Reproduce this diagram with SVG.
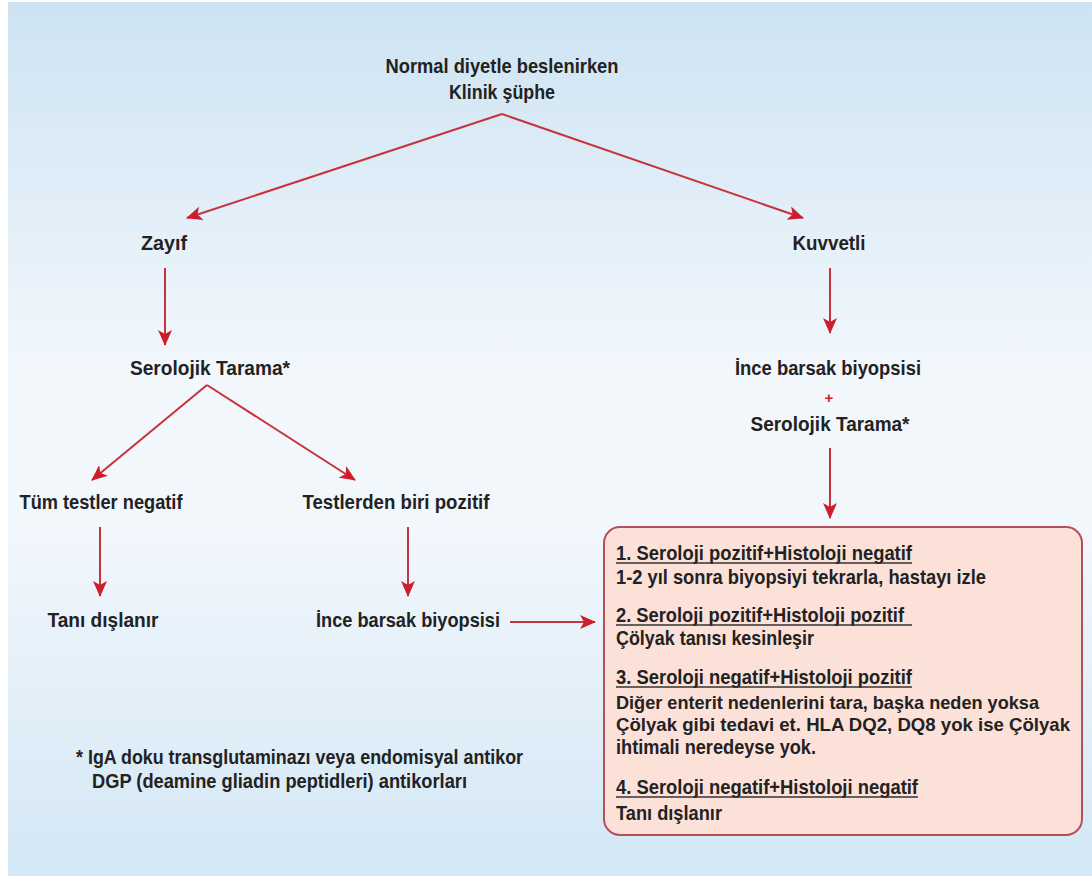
<svg xmlns="http://www.w3.org/2000/svg" width="1092" height="876" viewBox="0 0 1092 876">
<defs>
<linearGradient id="bg" x1="0" y1="0" x2="0" y2="1">
<stop offset="0" stop-color="#cde3f3"/>
<stop offset="0.42" stop-color="#f2f7fc"/>
<stop offset="0.6" stop-color="#f2f7fc"/>
<stop offset="1" stop-color="#d3e7f5"/>
</linearGradient>
<marker id="ah" markerUnits="userSpaceOnUse" markerWidth="16" markerHeight="14" viewBox="0 0 16 14" refX="15" refY="7" orient="auto">
<path d="M0,0 L16,7 L0,14 L4,7 Z" fill="#cc1f2b"/>
</marker>
</defs>
<style>
text{font-family:"Liberation Sans Narrow","Liberation Sans",Arial,sans-serif;font-weight:bold;font-size:21px;fill:#222;}
.c{text-anchor:middle;}
.s{font-size:19px;}
.conn line{stroke:#c7323d;stroke-width:2;marker-end:url(#ah);}
.ul{stroke:#333;stroke-width:1.5;}
</style>
<rect x="0" y="0" width="1092" height="876" fill="#ffffff"/>
<rect x="8" y="2" width="1084" height="874" fill="url(#bg)"/>

<g id="n-top">
<text class="c" x="502" y="73" textLength="233" lengthAdjust="spacingAndGlyphs">Normal diyetle beslenirken</text>
<text class="c" x="502" y="99" textLength="106" lengthAdjust="spacingAndGlyphs">Klinik şüphe</text>
</g>
<g id="n-zayif"><text class="c" x="164" y="250" textLength="46" lengthAdjust="spacingAndGlyphs">Zayıf</text></g>
<g id="n-kuvvetli"><text class="c" x="829" y="250" textLength="73" lengthAdjust="spacingAndGlyphs">Kuvvetli</text></g>
<g id="n-sero-left"><text class="c" x="210" y="375" textLength="160" lengthAdjust="spacingAndGlyphs">Serolojik Tarama*</text></g>
<g id="n-right-bio">
<text class="c" x="828" y="375" textLength="186" lengthAdjust="spacingAndGlyphs">İnce barsak biyopsisi</text>
<text class="c" x="829" y="403" style="fill:#d0202a;font-size:15px">+</text>
<text class="c" x="830" y="431" textLength="159" lengthAdjust="spacingAndGlyphs">Serolojik Tarama*</text>
</g>
<g id="n-tum"><text class="c" x="101" y="509" textLength="163" lengthAdjust="spacingAndGlyphs">Tüm testler negatif</text></g>
<g id="n-testlerden"><text class="c" x="396" y="509" textLength="187" lengthAdjust="spacingAndGlyphs">Testlerden biri pozitif</text></g>
<g id="n-tani"><text class="c" x="103" y="627" textLength="111" lengthAdjust="spacingAndGlyphs">Tanı dışlanır</text></g>
<g id="n-mid-bio"><text class="c" x="408" y="627" textLength="184" lengthAdjust="spacingAndGlyphs">İnce barsak biyopsisi</text></g>

<g id="n-box">
<rect x="604" y="527" width="478" height="308" rx="16" ry="16" fill="#fce1d9" stroke="#b2505c" stroke-width="2"/>
<text x="616" y="560" textLength="296" lengthAdjust="spacingAndGlyphs">1. Seroloji pozitif+Histoloji negatif</text>
<line class="ul" x1="616" y1="563" x2="912" y2="563"/>
<text x="616" y="584" textLength="370" lengthAdjust="spacingAndGlyphs">1-2 yıl sonra biyopsiyi tekrarla, hastayı izle</text>
<text x="616" y="622" textLength="288" lengthAdjust="spacingAndGlyphs">2. Seroloji pozitif+Histoloji pozitif</text>
<line class="ul" x1="616" y1="625" x2="912" y2="625"/>
<text x="616" y="645" textLength="198" lengthAdjust="spacingAndGlyphs">Çölyak tanısı kesinleşir</text>
<text x="616" y="684" textLength="296" lengthAdjust="spacingAndGlyphs">3. Seroloji negatif+Histoloji pozitif</text>
<line class="ul" x1="616" y1="687" x2="912" y2="687"/>
<text class="s" x="616" y="709" textLength="423" lengthAdjust="spacingAndGlyphs">Diğer enterit nedenlerini tara, başka neden yoksa</text>
<text class="s" x="616" y="731" textLength="454" lengthAdjust="spacingAndGlyphs">Çölyak gibi tedavi et. HLA DQ2, DQ8 yok ise Çölyak</text>
<text x="616" y="754" textLength="200" lengthAdjust="spacingAndGlyphs">ihtimali neredeyse yok.</text>
<text x="616" y="794" textLength="302" lengthAdjust="spacingAndGlyphs">4. Seroloji negatif+Histoloji negatif</text>
<line class="ul" x1="616" y1="797" x2="918" y2="797"/>
<text x="616" y="820" textLength="106" lengthAdjust="spacingAndGlyphs">Tanı dışlanır</text>
</g>

<g id="footnote">
<text x="76" y="764" textLength="447" lengthAdjust="spacingAndGlyphs">* IgA doku transglutaminazı veya endomisyal antikor</text>
<text x="92" y="788" textLength="375" lengthAdjust="spacingAndGlyphs">DGP (deamine gliadin peptidleri) antikorları</text>
</g>

<g id="connectors" class="conn">
<line x1="502" y1="114" x2="187" y2="218"/>
<line x1="502" y1="114" x2="803" y2="218"/>
<line x1="165" y1="268" x2="165" y2="345"/>
<line x1="830" y1="268" x2="830" y2="333"/>
<line x1="207" y1="385" x2="92" y2="480"/>
<line x1="207" y1="385" x2="355" y2="480"/>
<line x1="100" y1="527" x2="100" y2="596"/>
<line x1="408" y1="527" x2="408" y2="596"/>
<line x1="510" y1="622" x2="595" y2="622"/>
<line x1="830" y1="448" x2="830" y2="518"/>
</g>
</svg>
